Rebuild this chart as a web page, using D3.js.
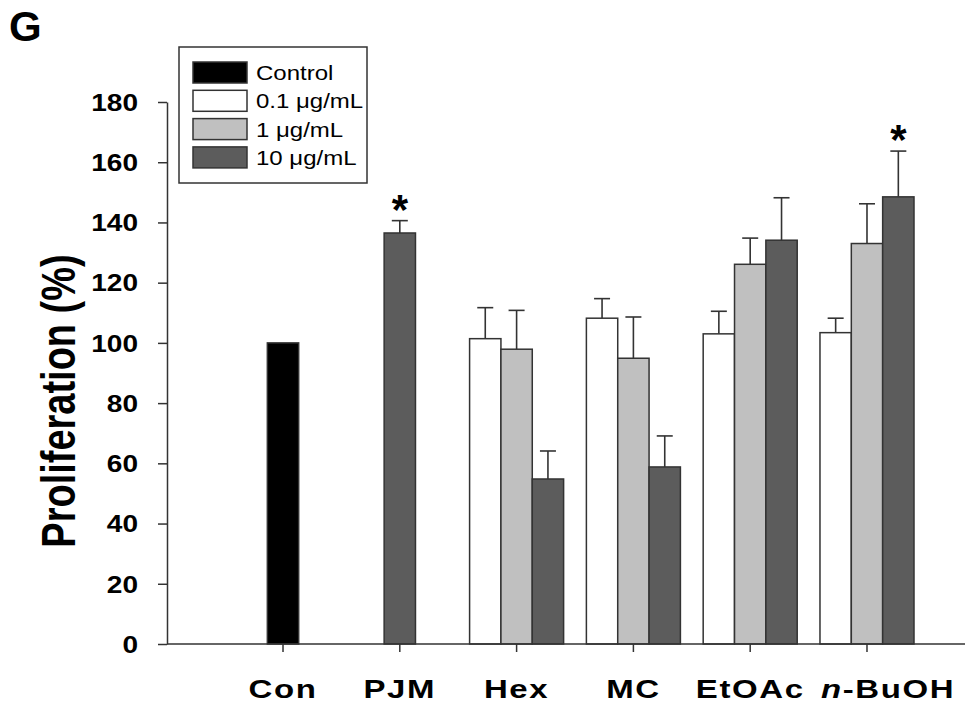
<!DOCTYPE html>
<html lang="en">
<head>
<meta charset="UTF-8">
<title>Proliferation</title>
<script src="https://cdnjs.cloudflare.com/ajax/libs/d3/7.8.5/d3.min.js"></script>
<style>
  body { margin: 0; background: #fff; }
  text { font-family: "Liberation Sans", Arial, sans-serif; }
</style>
</head>
<body>
<div id="chart"></div>
<script>
// categories on the x axis
const groups = ['Con', 'PJM', 'Hex', 'MC', 'EtOAc', 'n-BuOH'];
// series (legend order)
const seriesNames = ['Control', '0.1 μg/mL', '1 μg/mL', '10 μg/mL'];
const seriesColors = ['#000000', '#ffffff', '#c0c0c0', '#5c5c5c'];

// mean values per series (null = no bar)
const control = [100, null, null, null, null, null];
const c01 = [null, null, 101.4, 108.2, 103.0, 103.4];
const c1 = [null, null, 97.9, 94.9, 126.1, 133.0];
const c10 = [null, 136.5, 54.8, 58.8, 134.1, 148.5];

// upper error bar ends
const c01Err = [null, null, 111.7, 114.7, 110.5, 108.2];
const c1Err = [null, null, 110.8, 108.6, 134.8, 146.2];
const c10Err = [null, 140.6, 64.1, 69.1, 148.2, 163.7];

// significance marks (group, series index)
const stars = [['PJM', 3], ['n-BuOH', 3]];

const yTicks = [0, 20, 40, 60, 80, 100, 120, 140, 160, 180];

const width = 971, height = 703;
const svg = d3.select('#chart').append('svg')
  .attr('width', width).attr('height', height);

const y = d3.scaleLinear().domain([0, 180]).range([644, 102]);
const x = d3.scaleBand().domain(groups).range([236, 914]).paddingInner(0.195).paddingOuter(0);
const barW = x.bandwidth() / 3;

const values = [control, c01, c1, c10];
const errs = [null, c01Err, c1Err, c10Err];

// build bar list, bars of one group sit side by side and centred
const bars = [];
groups.forEach((g, gi) => {
  const present = [];
  values.forEach((v, si) => { if (v[gi] != null) present.push(si); });
  const cx = x(g) + x.bandwidth() / 2;
  const start = cx - present.length * barW / 2;
  present.forEach((si, k) => {
    bars.push({
      group: g, s: si, v: values[si][gi],
      e: errs[si] ? errs[si][gi] : null,
      x0: start + k * barW
    });
  });
});

// error bars (drawn first, bars cover the lower part)
svg.append('g').selectAll('g.err')
  .data(bars.filter(d => d.e != null))
  .join('g')
  .each(function (d) {
    const g = d3.select(this);
    const cx = d.x0 + barW / 2;
    g.append('line').attr('x1', cx).attr('x2', cx)
      .attr('y1', y(d.v)).attr('y2', y(d.e))
      .attr('stroke', '#333').attr('stroke-width', 1.6);
    g.append('line').attr('x1', cx - 8).attr('x2', cx + 8)
      .attr('y1', y(d.e)).attr('y2', y(d.e))
      .attr('stroke', '#333').attr('stroke-width', 1.6);
  });

svg.append('g').selectAll('rect')
  .data(bars)
  .join('rect')
  .attr('x', d => d.x0)
  .attr('y', d => y(d.v))
  .attr('width', barW)
  .attr('height', d => y(0) - y(d.v))
  .attr('fill', d => seriesColors[d.s])
  .attr('stroke', '#333')
  .attr('stroke-width', 1.5);

// stars
stars.forEach(([g, si]) => {
  const b = bars.find(d => d.group === g && d.s === si);
  svg.append('text')
    .attr('x', b.x0 + barW / 2)
    .attr('y', y(b.e) + 3)
    .attr('text-anchor', 'middle')
    .attr('font-size', 42)
    .attr('font-weight', 'bold')
    .text('*');
});

// y axis
const yAxis = svg.append('g')
  .attr('transform', 'translate(167,0)')
  .call(d3.axisLeft(y).tickValues(yTicks).tickSize(9).tickSizeOuter(0));
yAxis.select('.domain').attr('stroke', '#333').attr('stroke-width', 1.5);
yAxis.selectAll('.tick line').attr('stroke', '#333').attr('stroke-width', 1.5);
yAxis.selectAll('.tick text')
  .attr('x', 0).attr('dy', '0.36em')
  .attr('transform', 'translate(-29,0) scale(1.22,1)')
  .attr('font-size', 23).attr('font-weight', 'bold')
  .attr('fill', '#000')
  .style('font-family', '"Liberation Sans", Arial, sans-serif');

// x axis
const xAxis = svg.append('g')
  .attr('transform', 'translate(0,644)')
  .call(d3.axisBottom(x).tickSize(8).tickSizeOuter(0).tickFormat(''));
xAxis.select('.domain').attr('d', 'M167,0H965').attr('stroke', '#333').attr('stroke-width', 1.5);
xAxis.selectAll('.tick line').attr('stroke', '#333').attr('stroke-width', 1.5);

// x labels
groups.forEach(g => {
  const shift = g === 'n-BuOH' ? 21 : 0;
  const t = svg.append('text')
    .attr('transform', `translate(${x(g) + x.bandwidth() / 2 + shift},698) scale(1.32,1)`)
    .attr('text-anchor', 'middle')
    .attr('font-size', 25)
    .attr('font-weight', 'bold')
    .attr('letter-spacing', 1.2);
  if (g === 'n-BuOH') {
    t.append('tspan').attr('font-style', 'italic').text('n');
    t.append('tspan').text('-BuOH');
  } else {
    t.text(g);
  }
});

// y label
svg.append('text')
  .attr('transform', 'translate(75,401) rotate(-90) scale(1,1.25)')
  .attr('text-anchor', 'middle')
  .attr('font-size', 38)
  .attr('font-weight', 'bold')
  .text('Proliferation (%)');

// panel letter
svg.append('text')
  .attr('x', 9).attr('y', 41)
  .attr('font-size', 42)
  .attr('font-weight', 'bold')
  .text('G');

// legend
const legend = svg.append('g');
legend.append('rect')
  .attr('x', 179).attr('y', 47).attr('width', 188).attr('height', 136)
  .attr('fill', '#fff').attr('stroke', '#333').attr('stroke-width', 1.5);
seriesNames.forEach((name, i) => {
  const ly = 62 + i * 28.3;
  legend.append('rect')
    .attr('x', 193).attr('y', ly).attr('width', 54).attr('height', 21)
    .attr('fill', seriesColors[i]).attr('stroke', '#333').attr('stroke-width', 1.5);
  legend.append('text')
    .attr('transform', `translate(256,${ly + 18}) scale(1.2,1)`)
    .attr('font-size', 20)
    .text(name);
});
</script>
</body>
</html>
